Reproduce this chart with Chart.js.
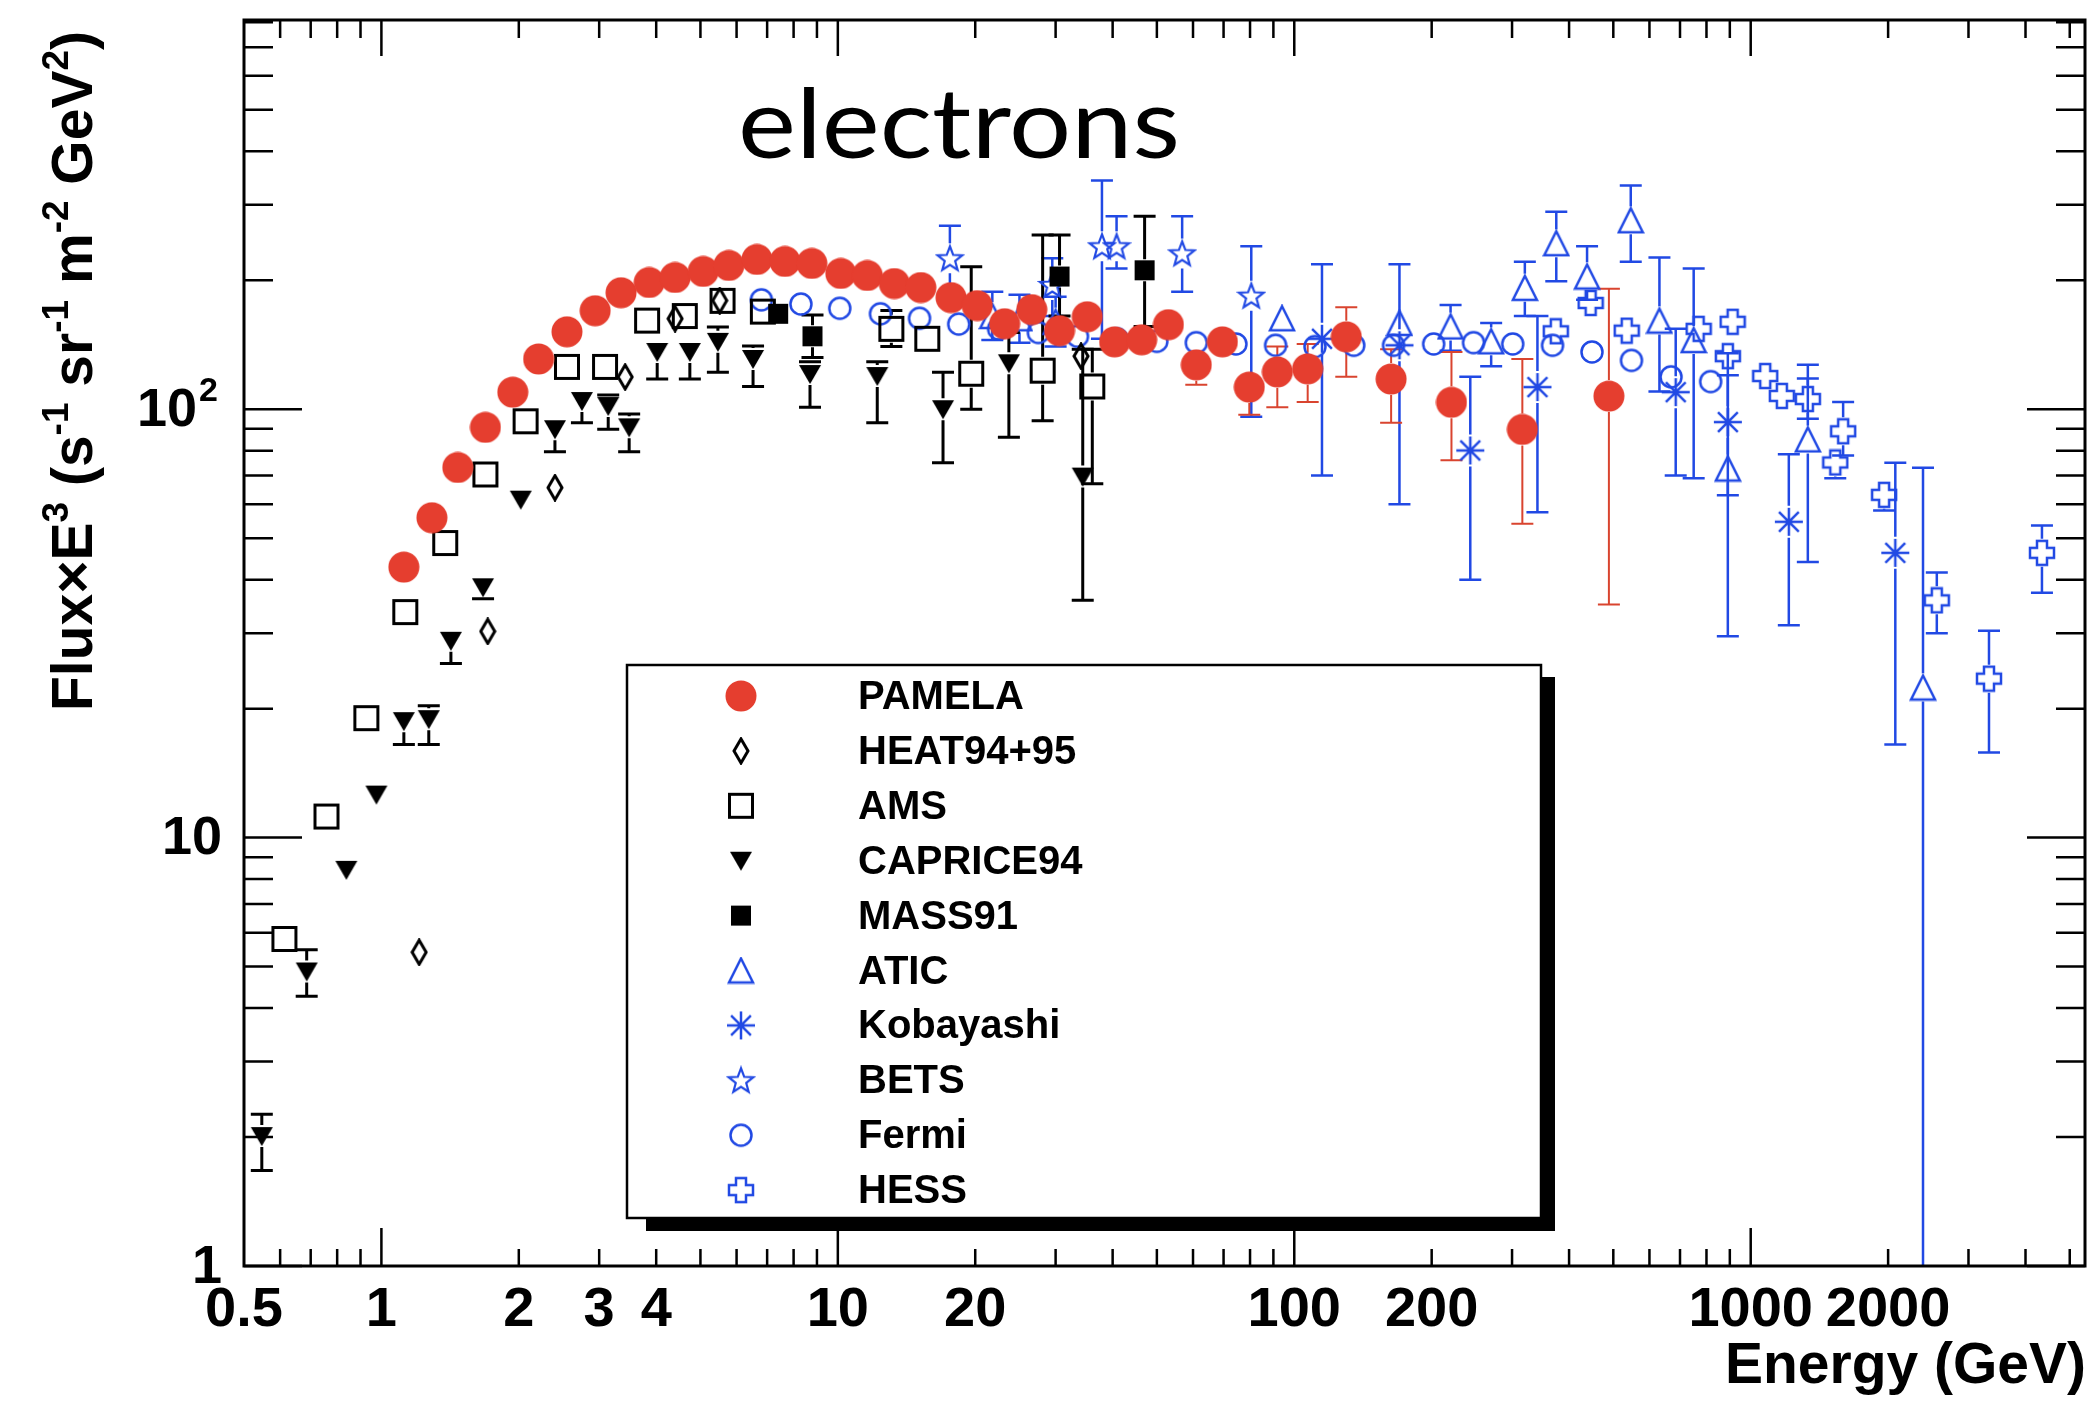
<!DOCTYPE html>
<html>
<head>
<meta charset="utf-8">
<title>electrons</title>
<script src="https://cdn.jsdelivr.net/npm/chart.js@4.4.1/dist/chart.umd.min.js"></script>
<style>
    html, body { margin: 0; padding: 0; background: #ffffff; }
    #wrap { width: 2098px; height: 1404px; }
</style>
</head>
<body>
<div id="wrap"><canvas id="fluxChart" width="2098" height="1404"></canvas></div>
<script>
"use strict";

/* =========================================================
   DATA  (energy in GeV, flux x E^3, error bar low / high)
========================================================= */

const pamelaE  = [1.12, 1.29, 1.47, 1.69, 1.94, 2.21, 2.55, 2.94, 3.35, 3.86, 4.40, 5.07, 5.77, 6.65, 7.66, 8.77, 10.15, 11.6, 13.3, 15.2, 17.7, 20.2, 23.2, 26.6, 30.6, 35.2, 40.4, 46.3, 53.0, 61.0, 69.6, 79.7, 91.8, 107, 130, 163, 221, 316, 489];
const pamelaF  = [42.8, 55.8, 73.1, 90.7, 109.6, 131, 151.6, 169.8, 187, 197.6, 203, 209.7, 216.6, 223.7, 221.3, 218.9, 207.5, 205.2, 196.5, 192.3, 182.2, 174.5, 158.3, 170.8, 152.5, 164.4, 143.6, 145.2, 157.5, 126.9, 143.6, 112.6, 122.2, 124.2, 147.6, 117.6, 103.8, 89.7, 107.3];
const pamelaLo = [null, null, null, null, null, null, null, null, null, null, null, null, null, null, null, null, null, null, null, null, null, null, null, null, null, null, null, null, null, 114, 138, 97, 101, 104, 119, 93, 76, 54, 35];
const pamelaHi = [null, null, null, null, null, null, null, null, null, null, null, null, null, null, null, null, null, null, null, null, null, null, null, null, null, null, null, null, null, 133, 150, 122, 140, 142, 173, 138, 136, 131, 191];

const heatE = [1.21, 1.71, 2.40, 3.42, 4.40, 5.51, 34.1];
const heatF = [5.4, 30.3, 65.6, 118.9, 162.7, 179.3, 133];

const amsE  = [0.613, 0.758, 0.927, 1.128, 1.38, 1.69, 2.07, 2.55, 3.09, 3.82, 4.62, 5.59, 6.85, 13.1, 15.7, 19.6, 28.1, 36.1];
const amsF  = [5.8, 11.2, 19.0, 33.6, 48.7, 70.4, 93.7, 125.5, 125.5, 161, 165, 179, 169, 154, 146, 121, 123, 113];
const amsLo = [null, null, null, null, null, null, null, null, null, null, null, null, null, 140, null, 100, 94, 67];
const amsHi = [null, null, null, null, null, null, null, null, null, null, null, null, null, 170, null, 215, 255, 138];

const capriceE  = [0.547, 0.686, 0.838, 0.975, 1.12, 1.27, 1.42, 1.67, 2.02, 2.40, 2.75, 3.14, 3.49, 4.02, 4.74, 5.46, 6.52, 8.69, 12.2, 17.0, 23.7, 34.4];
const capriceF  = [2.01, 4.87, 8.41, 12.6, 18.7, 18.9, 28.8, 38.4, 61.5, 89.8, 104.5, 101.7, 90.7, 136, 136, 143.6, 131, 120.8, 119.5, 100, 128, 69.6];
const capriceLo = [1.67, 4.26, null, 12.2, 16.5, 16.5, 25.5, 36.1, null, 79.6, 93, 89.8, 79.6, 117.6, 117.6, 122, 113, 101, 93, 75, 86, 35.8];
const capriceHi = [2.26, 5.47, null, 13.0, 19.5, 20.3, 30.2, 40.4, null, 95, 110, 108, 97.5, 143.7, 143, 155.5, 140.5, 129, 129, 122, 151, 138];

const massE  = [7.4, 8.8, 30.6, 47];
const massF  = [167, 148, 204, 211];
const massLo = [null, 132, 165, 156];
const massHi = [null, 166, 255, 282];

const aticE  = [21.8, 25, 30, 94, 170, 220, 270, 320, 375, 438, 546, 631, 750, 891, 1334, 2385];
const aticF  = [165, 163, 160, 163, 159, 156, 144, 192, 244, 204, 276, 161, 145, 72.7, 85, 22.4];
const aticLo = [145, 143, 140, null, null, 137, 126, 165, 199, 180, 221, 110, 69, 29.5, 44, 0.5];
const aticHi = [188, 185, 183, null, null, 175, 159, 221, 289, 240, 333, 226, 213, 120, 127, 73];

const kobayashiE  = [115, 170, 243, 341, 685, 891, 1212, 2074];
const kobayashiF  = [146, 141, 80.1, 112.6, 109.6, 93.3, 54.6, 46.2];
const kobayashiLo = [70, 60, 40, 57.5, 70, 63, 31.3, 16.5];
const kobayashiHi = [218, 218, 119, 165, 154, 135, 78.5, 75];

const betsE  = [17.6, 29.5, 37.9, 40.8, 56.8, 80.5];
const betsF  = [225, 195, 240, 240, 231, 184];
const betsLo = [189, 165, 146, 213, 188, 96];
const betsHi = [268, 225, 342, 282, 282, 240];

const fermiE = [6.8, 8.3, 10.1, 12.4, 15.1, 18.4, 22.5, 27.5, 33.5, 40.9, 50, 61, 74.5, 91, 111, 135, 165, 202, 247, 301, 368, 449, 548, 669, 817];
const fermiF = [180, 176, 172, 167, 163, 158, 154, 151, 148, 146, 144, 143, 142, 141, 140, 141, 141, 142, 143, 142, 141, 136, 130, 119, 116];

const hessE  = [374, 446, 535, 769, 891, 913, 1076, 1170, 1334, 1532, 1594, 1960, 2557, 3327, 4346];
const hessF  = [152, 177, 152.5, 154, 133, 160, 119.5, 107.4, 105.6, 75.1, 88.8, 63.1, 35.8, 23.5, 46.2];
const hessLo = [null, 170, null, null, 125, null, 112, 100, 95, 69, 78, 58, 30, 15.8, 37.3];
const hessHi = [null, 185, null, null, 142, null, 127, 114, 118, 80, 104, 68, 41.6, 30.4, 53.5];

const xTickValues = [0.5, 1, 2, 3, 4, 10, 20, 100, 200, 1000, 2000];
const yTickValues = [1, 10, 100];

const X_MIN = 0.5;
const X_MAX = 5400;
const Y_MIN = 1;
const Y_MAX = 810;

const RED = "#e53e2f";
const BLUE = "#2149e4";
const BLACK = "#000000";

const BOLD = "'Liberation Sans', Arial, Helvetica, sans-serif";


/* =========================================================
   MARKERS (drawn once on small canvases)
========================================================= */

function marker(w, h, paint) {

    const c = document.createElement("canvas");
    c.width = w;
    c.height = h;
    paint(c.getContext("2d"), w, h);
    return c;

}

const markers = {

    redDot: marker(32, 32, (g) => {
        g.fillStyle = RED;
        g.beginPath();
        g.arc(16, 16, 15.5, 0, Math.PI * 2);
        g.fill();
    }),

    diamond: marker(18, 28, (g) => {
        g.strokeStyle = BLACK;
        g.lineWidth = 3;
        g.beginPath();
        g.moveTo(9, 2); g.lineTo(16, 14); g.lineTo(9, 26); g.lineTo(2, 14);
        g.closePath();
        g.stroke();
    }),

    openSquare: marker(28, 28, (g) => {
        g.strokeStyle = BLACK;
        g.lineWidth = 3;
        g.strokeRect(2.5, 2.5, 23, 23);
    }),

    downTriangle: marker(24, 22, (g) => {
        g.fillStyle = BLACK;
        g.beginPath();
        g.moveTo(1, 2); g.lineTo(23, 2); g.lineTo(12, 21);
        g.closePath();
        g.fill();
    }),

    fullSquare: marker(22, 22, (g) => {
        g.fillStyle = BLACK;
        g.fillRect(1, 1, 20, 20);
    }),

    openTriangle: marker(28, 28, (g) => {
        g.strokeStyle = BLUE;
        g.lineWidth = 2.5;
        g.beginPath();
        g.moveTo(14, 2); g.lineTo(26, 26); g.lineTo(2, 26);
        g.closePath();
        g.stroke();
    }),

    asterisk: marker(32, 32, (g) => {
        g.strokeStyle = BLUE;
        g.lineWidth = 2.5;
        g.beginPath();
        for (let k = 0; k < 4; k++) {
            const a = k * Math.PI / 4;
            g.moveTo(16 + 14 * Math.cos(a), 16 + 14 * Math.sin(a));
            g.lineTo(16 - 14 * Math.cos(a), 16 - 14 * Math.sin(a));
        }
        g.stroke();
    }),

    openStar: marker(30, 30, (g) => {
        g.strokeStyle = BLUE;
        g.lineWidth = 2.2;
        g.beginPath();
        for (let k = 0; k < 10; k++) {
            const r = k % 2 === 0 ? 13 : 5.5;
            const a = -Math.PI / 2 + k * Math.PI / 5;
            const px = 15 + r * Math.cos(a);
            const py = 16 + r * Math.sin(a);
            if (k === 0) g.moveTo(px, py); else g.lineTo(px, py);
        }
        g.closePath();
        g.stroke();
    }),

    openCircle: marker(26, 26, (g) => {
        g.strokeStyle = BLUE;
        g.lineWidth = 2.5;
        g.beginPath();
        g.arc(13, 13, 10.5, 0, Math.PI * 2);
        g.stroke();
    }),

    openCross: marker(28, 28, (g) => {
        g.strokeStyle = BLUE;
        g.lineWidth = 2.5;
        const a = 9, b = 19;
        g.beginPath();
        g.moveTo(a, 2); g.lineTo(b, 2); g.lineTo(b, a); g.lineTo(26, a);
        g.lineTo(26, b); g.lineTo(b, b); g.lineTo(b, 26); g.lineTo(a, 26);
        g.lineTo(a, b); g.lineTo(2, b); g.lineTo(2, a); g.lineTo(a, a);
        g.closePath();
        g.stroke();
    })

};


/* =========================================================
   DATASETS
========================================================= */

function points(es, fs) {

    return es.map((e, i) => ({ x: e, y: fs[i] }));

}

function series(label, es, fs, lo, hi, style, color, errWidth) {

    return {
        label: label,
        data: points(es, fs),
        errLo: lo || [],
        errHi: hi || [],
        errColor: color,
        errWidth: errWidth,
        pointStyle: style,
        pointRadius: 12,
        pointHoverRadius: 12,
        showLine: false
    };

}

const datasets = [
    series("PAMELA", pamelaE, pamelaF, pamelaLo, pamelaHi, markers.redDot, "#d9442f", 2),
    series("HEAT94+95", heatE, heatF, null, null, markers.diamond, BLACK, 3),
    series("AMS", amsE, amsF, amsLo, amsHi, markers.openSquare, BLACK, 3),
    series("CAPRICE94", capriceE, capriceF, capriceLo, capriceHi, markers.downTriangle, BLACK, 3),
    series("MASS91", massE, massF, massLo, massHi, markers.fullSquare, BLACK, 3),
    series("ATIC", aticE, aticF, aticLo, aticHi, markers.openTriangle, BLUE, 2.5),
    series("Kobayashi", kobayashiE, kobayashiF, kobayashiLo, kobayashiHi, markers.asterisk, BLUE, 2.5),
    series("BETS", betsE, betsF, betsLo, betsHi, markers.openStar, BLUE, 2.5),
    series("Fermi", fermiE, fermiF, null, null, markers.openCircle, BLUE, 2.5),
    series("HESS", hessE, hessF, hessLo, hessHi, markers.openCross, BLUE, 2.5)
];


/* =========================================================
   ERROR BARS
========================================================= */

const errorBars = {

    id: "errorBars",

    beforeDatasetsDraw(chart) {

        const ctx = chart.ctx;
        const area = chart.chartArea;
        const xs = chart.scales.x;
        const ys = chart.scales.y;

        ctx.save();
        ctx.beginPath();
        ctx.rect(area.left, area.top, area.right - area.left, area.bottom - area.top);
        ctx.clip();

        for (let d = chart.data.datasets.length - 1; d >= 0; d--) {

            const ds = chart.data.datasets[d];
            const gap = ds.pointStyle.height / 2;

            ctx.strokeStyle = ds.errColor;
            ctx.lineWidth = ds.errWidth;

            ds.data.forEach((p, i) => {

                const lo = ds.errLo[i];
                const hi = ds.errHi[i];
                if (lo == null || hi == null) return;

                const px = xs.getPixelForValue(p.x);
                const py = ys.getPixelForValue(p.y);
                const yLo = ys.getPixelForValue(lo);
                const yHi = ys.getPixelForValue(hi);

                ctx.beginPath();
                if (yLo > py + gap) {
                    ctx.moveTo(px, py + gap);
                    ctx.lineTo(px, yLo);
                    ctx.moveTo(px - 11, yLo);
                    ctx.lineTo(px + 11, yLo);
                }
                if (yHi < py - gap) {
                    ctx.moveTo(px, py - gap);
                    ctx.lineTo(px, yHi);
                    ctx.moveTo(px - 11, yHi);
                    ctx.lineTo(px + 11, yHi);
                }
                ctx.stroke();

            });

        }

        ctx.restore();

    }

};


/* =========================================================
   FRAME, TICKS, LABELS, TITLES, LEGEND
========================================================= */

function logTicks(min, max) {

    const out = [];
    for (let dec = 0.1; dec <= 10000; dec *= 10) {
        for (let m = 1; m <= 9; m++) {
            const v = Math.round(m * dec * 1000) / 1000;
            if (v > min && v < max) out.push({ v: v, major: m === 1 });
        }
    }
    return out;

}

function partsWidth(ctx, parts, size, supSize) {

    let width = 0;
    parts.forEach(([t, sup]) => {
        ctx.font = "bold " + (sup ? supSize : size) + "px " + BOLD;
        width += ctx.measureText(t).width;
    });
    return width;

}

const rootFrame = {

    id: "rootFrame",

    afterDraw(chart) {

        const ctx = chart.ctx;
        const a = chart.chartArea;
        const xs = chart.scales.x;
        const ys = chart.scales.y;

        ctx.save();
        ctx.strokeStyle = BLACK;
        ctx.fillStyle = BLACK;

        // ticks on all four sides
        ctx.lineWidth = 2.5;
        ctx.beginPath();
        logTicks(Y_MIN, Y_MAX).concat([{ v: 1, major: true }]).forEach((t) => {
            const y = ys.getPixelForValue(t.v);
            const len = t.major ? 58 : 29;
            ctx.moveTo(a.left, y); ctx.lineTo(a.left + len, y);
            ctx.moveTo(a.right, y); ctx.lineTo(a.right - len, y);
        });
        logTicks(X_MIN, X_MAX).forEach((t) => {
            const x = xs.getPixelForValue(t.v);
            ctx.moveTo(x, a.bottom); ctx.lineTo(x, a.bottom - (t.major ? 38 : 17));
            ctx.moveTo(x, a.top); ctx.lineTo(x, a.top + (t.major ? 36 : 18));
        });
        ctx.stroke();

        // frame
        ctx.lineWidth = 3;
        ctx.strokeRect(a.left, a.top, a.right - a.left, a.bottom - a.top);

        // x tick labels
        ctx.font = "bold 56px " + BOLD;
        ctx.textAlign = "center";
        ctx.textBaseline = "alphabetic";
        xTickValues.forEach((v) => {
            ctx.fillText(String(v), xs.getPixelForValue(v), 1326);
        });

        // y tick labels
        yTickValues.forEach((v) => {
            const y = ys.getPixelForValue(v);
            ctx.font = "bold 54px " + BOLD;
            ctx.textBaseline = "middle";
            if (v === 100) {
                ctx.textAlign = "right";
                ctx.fillText("10", 197, y + 2);
                ctx.font = "bold 34px " + BOLD;
                ctx.textAlign = "left";
                ctx.fillText("2", 199, y - 18);
            } else {
                ctx.textAlign = "right";
                ctx.fillText(String(v), 222, y + 2);
            }
        });

        // y axis title with superscripts
        const yParts = [
            ["Flux", 0], ["\u00d7", 0], ["E", 0], ["3", 1], [" (s", 0], ["-1", 1],
            [" sr", 0], ["-1", 1], [" m", 0], ["-2", 1], [" GeV", 0], ["2", 1], [")", 0]
        ];
        const main = 57, sup = 37, rise = 24;
        const total = partsWidth(ctx, yParts, main, sup);
        ctx.save();
        ctx.translate(92, 371);
        ctx.rotate(-Math.PI / 2);
        ctx.textAlign = "left";
        ctx.textBaseline = "alphabetic";
        let cx = -total / 2;
        yParts.forEach(([t, s]) => {
            ctx.font = "bold " + (s ? sup : main) + "px " + BOLD;
            ctx.fillText(t, cx, s ? -rise : 0);
            cx += ctx.measureText(t).width;
        });
        ctx.restore();

        // x axis title
        ctx.font = "bold 57px " + BOLD;
        ctx.textAlign = "right";
        ctx.textBaseline = "alphabetic";
        ctx.fillText("Energy (GeV)", 2086, 1383);

        // big title, widened to its box
        const word = "electrons";
        ctx.font = "400 96px Lato, 'Open Sans', sans-serif";
        ctx.textAlign = "left";
        const plain = ctx.measureText(word).width;
        ctx.save();
        ctx.translate(738, 158);
        ctx.scale(442 / plain, 1);
        ctx.fillText(word, 0, 0);
        ctx.restore();

        // legend with shadow
        const L = { left: 627, top: 665, right: 1541, bottom: 1218 };
        ctx.fillStyle = BLACK;
        ctx.fillRect(L.right, L.top + 12, 14, L.bottom - L.top + 1);
        ctx.fillRect(L.left + 19, L.bottom, L.right - L.left - 5, 13);
        ctx.fillStyle = "#ffffff";
        ctx.fillRect(L.left, L.top, L.right - L.left, L.bottom - L.top);
        ctx.lineWidth = 2.5;
        ctx.strokeRect(L.left, L.top, L.right - L.left, L.bottom - L.top);

        ctx.font = "bold 40px " + BOLD;
        ctx.textAlign = "left";
        ctx.textBaseline = "middle";
        ctx.fillStyle = BLACK;
        chart.data.datasets.forEach((ds, i) => {
            const rowY = 696 + i * 54.9;
            const m = ds.pointStyle;
            ctx.drawImage(m, 741 - m.width / 2, rowY - m.height / 2);
            ctx.fillText(ds.label, 858, rowY + 2);
        });

        ctx.restore();

    }

};


/* =========================================================
   CHART
========================================================= */

new Chart(document.getElementById("fluxChart"), {

    type: "scatter",

    data: { datasets: datasets },

    options: {
        responsive: false,
        animation: false,
        devicePixelRatio: 1,
        layout: {
            padding: { left: 244, top: 20, right: 9, bottom: 138 }
        },
        scales: {
            x: { type: "logarithmic", min: X_MIN, max: X_MAX, display: false },
            y: { type: "logarithmic", min: Y_MIN, max: Y_MAX, display: false }
        },
        plugins: {
            legend: { display: false },
            tooltip: { enabled: false }
        }
    },

    plugins: [errorBars, rootFrame]

});
</script>
</body>
</html>
